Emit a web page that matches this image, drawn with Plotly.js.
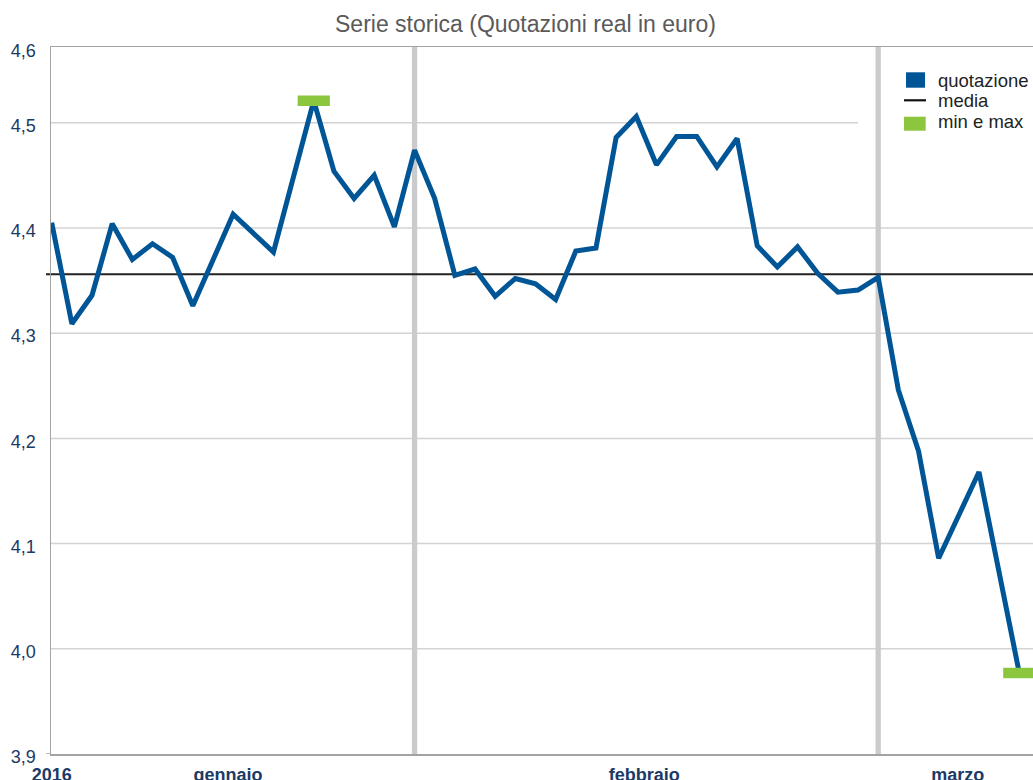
<!DOCTYPE html>
<html>
<head>
<meta charset="utf-8">
<script src="https://cdn.plot.ly/plotly-3.0.1.min.js"></script>
<style>html,body{margin:0;padding:0;background:#fff;}#chart{width:1033px;height:780px;}</style>
</head>
<body>
<div id="chart"></div>
<script>
// ---- data ----
var dayIndex = [0,1,2,3,4,5,6,7,9,11,13,14,15,16,17,18,19,20,21,22,23,24,25,26,27,28,29,30,31,32,33,34,35,36,37,38,39,40,41,42,43,44,46,48];
var quotazione = [4.405,4.309,4.336,4.404,4.370,4.385,4.372,4.326,4.413,4.377,4.521,4.454,4.428,4.450,4.401,4.474,4.428,4.355,4.361,4.335,4.352,4.347,4.332,4.378,4.381,4.486,4.506,4.460,4.487,4.487,4.458,4.485,4.383,4.363,4.382,4.357,4.339,4.341,4.353,4.246,4.188,4.086,4.168,3.977];
var media = [4.356];
var monthStartIndex = [18, 41];            // first day of febbraio, marzo
var xTickPos = [0, 8.75, 29.4, 44.95];
var xTickText = ['2016', 'gennaio', 'febbraio', 'marzo'];
var yTickVals = [3.9, 4.0, 4.1, 4.2, 4.3, 4.4, 4.5, 4.6];
var yTickText = ['3,9', '4,0', '4,1', '4,2', '4,3', '4,4', '4,5', '4,6'];
var legendNames = ['quotazione', 'media', 'min e max'];

// ---- layout constants ----
var W = 1033, H = 780;
var M = {l: 51, r: 0, t: 47, b: 26};
var PW = W - M.l - M.r, PH = H - M.t - M.b;
var yBottom = 3.9, yTop = 4.572;
var xRange = [-0.035, 48.68];
function pxX(px) { return (px - M.l) / PW; }
function pxY(py) { return (M.t + PH - py) / PH; }

var BLUE = '#005596', GREEN = '#8cc63f', NAVY = '#1b3a66';
var FONT = 'Liberation Sans, Arial, Helvetica, sans-serif';

// min / max from the data
var iMax = 0, iMin = 0;
for (var i = 1; i < quotazione.length; i++) {
  if (quotazione[i] > quotazione[iMax]) iMax = i;
  if (quotazione[i] < quotazione[iMin]) iMin = i;
}

// tick positions: the top label sits at the top edge of the plot
var yTickPos = yTickVals.map(function (v) { return Math.min(v, yTop - 0.0004); });

var shapes = [];
// horizontal grid lines (skip bottom axis and top border)
yTickVals.forEach(function (v, k) {
  if (k === 0 || k === yTickVals.length - 1) return;
  shapes.push({type: 'line', layer: 'below', xref: 'paper', yref: 'y',
    x0: 0, x1: (v === 4.5 ? pxX(858) : 1), y0: v, y1: v,
    line: {color: '#d3d3d3', width: 1.5}});
});
// month separators
monthStartIndex.forEach(function (m) {
  shapes.push({type: 'line', layer: 'below', xref: 'x', yref: 'paper',
    x0: m, x1: m, y0: 0, y1: 1, line: {color: '#cbcbcd', width: 5.3}});
});
// media line
shapes.push({type: 'line', layer: 'below', xref: 'paper', yref: 'y',
  x0: pxX(46), x1: 1, y0: media[0], y1: media[0], line: {color: '#222', width: 2}});
// small tick at axis origin
shapes.push({type: 'line', layer: 'above', xref: 'paper', yref: 'y',
  x0: pxX(46), x1: 0, y0: yBottom, y1: yBottom, line: {color: '#a3a3a3', width: 1.5}});

// legend swatches
shapes.push({type: 'rect', xref: 'paper', yref: 'paper', layer: 'above',
  x0: pxX(906), x1: pxX(925), y0: pxY(87.7), y1: pxY(72.3), line: {width: 0}, fillcolor: BLUE});
shapes.push({type: 'line', xref: 'paper', yref: 'paper', layer: 'above',
  x0: pxX(904), x1: pxX(926), y0: pxY(100.3), y1: pxY(100.3), line: {color: '#111', width: 2.2}});
shapes.push({type: 'rect', xref: 'paper', yref: 'paper', layer: 'above',
  x0: pxX(904), x1: pxX(925.7), y0: pxY(130.7), y1: pxY(116.7), line: {width: 0}, fillcolor: GREEN});

var legendTextY = [80.9, 100.9, 121.9];
var annotations = legendNames.map(function (t, k) {
  return {text: t, xref: 'paper', yref: 'paper', x: pxX(936), y: pxY(legendTextY[k]),
    xanchor: 'left', yanchor: 'middle', showarrow: false,
    font: {family: FONT, size: 18.5, color: '#222'}};
});

var traces = [
  {type: 'scatter', mode: 'lines', name: legendNames[0], x: dayIndex, y: quotazione,
   line: {color: BLUE, width: 5}, showlegend: false, hoverinfo: 'skip'},
  {type: 'scatter', mode: 'markers', name: legendNames[2],
   x: [dayIndex[iMax], dayIndex[iMin]], y: [quotazione[iMax], quotazione[iMin]],
   marker: {symbol: 'line-ew', size: 23, color: GREEN, line: {color: GREEN, width: 10.5}},
   showlegend: false, cliponaxis: false, hoverinfo: 'skip'}
];

var layout = {
  width: W, height: H,
  margin: M,
  paper_bgcolor: '#fff', plot_bgcolor: 'rgba(0,0,0,0)',
  showlegend: false,
  font: {family: FONT},
  title: {text: 'Serie storica (Quotazioni real in euro)', x: 525.5 / W, xref: 'container', xanchor: 'center',
    y: 1 - 24.2 / H, yref: 'container', yanchor: 'middle',
    font: {family: FONT, size: 23, color: '#5a5a5a'}},
  xaxis: {range: xRange, showgrid: false, zeroline: false,
    showline: true, linecolor: '#a3a3a3', linewidth: 1.5, mirror: true,
    tickmode: 'array', tickvals: xTickPos, ticktext: xTickText,
    ticks: 'outside', ticklen: 4, tickcolor: 'rgba(0,0,0,0)',
    tickfont: {family: FONT, size: 18, color: NAVY, weight: 700}, automargin: false},
  yaxis: {range: [yBottom, yTop], showgrid: false, zeroline: false,
    showline: true, linecolor: '#a3a3a3', linewidth: 1.5,
    tickmode: 'array', tickvals: yTickPos, ticktext: yTickText,
    ticks: 'outside', ticklen: 10, tickcolor: 'rgba(0,0,0,0)', ticklabelshift: 3,
    tickfont: {family: FONT, size: 18, color: NAVY}, automargin: false},
  shapes: shapes,
  annotations: annotations,
  hovermode: false
};

Plotly.newPlot('chart', traces, layout, {staticPlot: true, displayModeBar: false});
</script>
</body>
</html>
